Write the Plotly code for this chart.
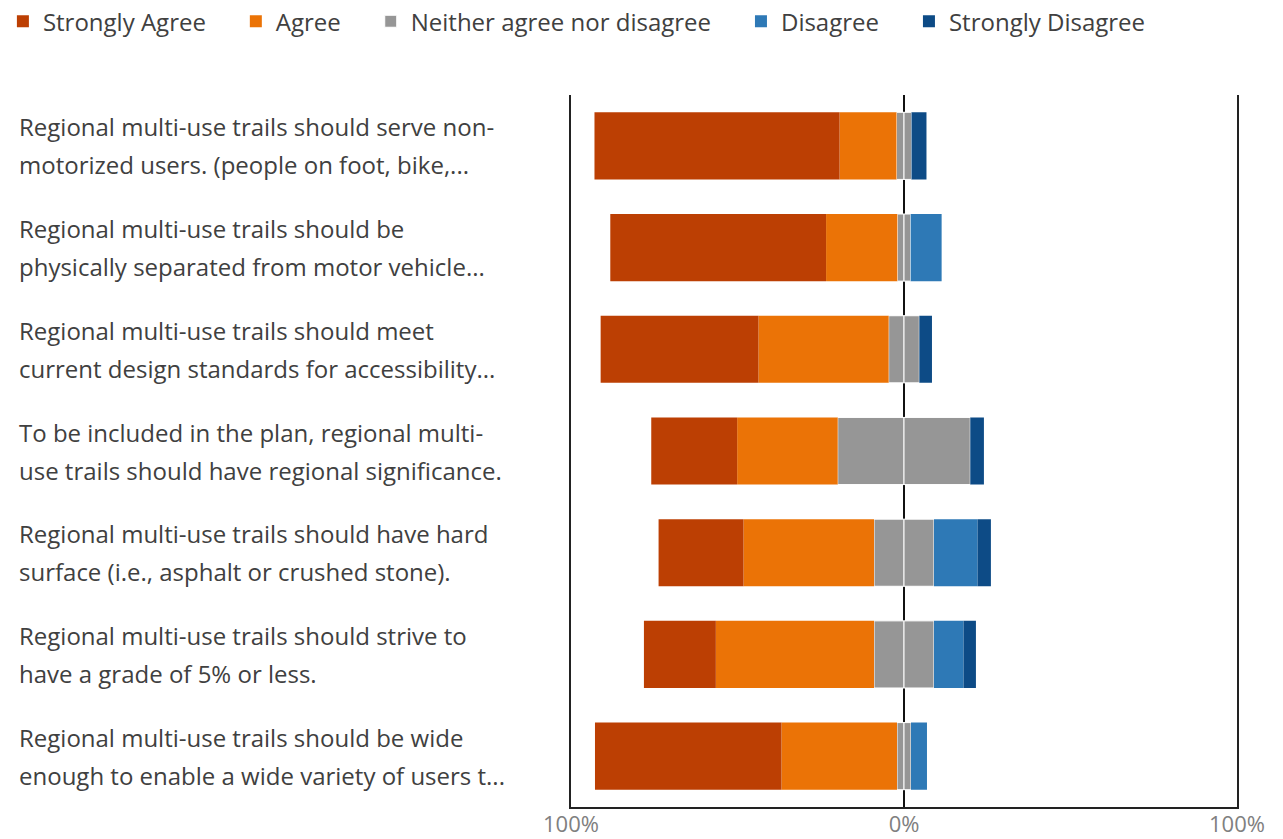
import plotly.graph_objects as go

# ---- data (percent of respondents) ----
line1 = [
    "Regional multi-use trails should serve non-",
    "Regional multi-use trails should be",
    "Regional multi-use trails should meet",
    "To be included in the plan, regional multi-",
    "Regional multi-use trails should have hard",
    "Regional multi-use trails should strive to",
    "Regional multi-use trails should be wide",
]
line2 = [
    "motorized users. (people on foot, bike,...",
    "physically separated from motor vehicle...",
    "current design standards for accessibility...",
    "use trails should have regional significance.",
    "surface (i.e., asphalt or crushed stone).",
    "have a grade of 5% or less.",
    "enough to enable a wide variety of users t...",
]
strongly_agree = [73.6, 64.8, 47.4, 25.8, 25.5, 21.6, 56.0]
agree = [17.1, 21.4, 39.1, 30.2, 39.2, 47.5, 34.7]
neutral = [4.5, 4.0, 9.2, 39.8, 18.0, 18.0, 4.2]
disagree = [0.0, 9.3, 0.0, 0.0, 13.1, 8.9, 4.8]
strongly_disagree = [4.5, 0.0, 3.8, 4.1, 4.0, 3.7, 0.0]

series_names = ["Strongly Agree", "Agree", "Neither agree nor disagree",
                "Disagree", "Strongly Disagree"]
tick_vals = [-100, 0, 100]
tick_text = ["100%", "0%", "100%"]

colors = {
    "Strongly Agree": "#BC3F03",
    "Agree": "#EB7306",
    "Neither agree nor disagree": "#969696",
    "Disagree": "#2E79B6",
    "Strongly Disagree": "#0D4B86",
}

cats = [a + " " + b for a, b in zip(line1, line2)]
pad = "\u00a0" * 4

fig = go.Figure()

def add(name, vals, show=True, rank=1, edge=0):
    fig.add_trace(go.Bar(
        y=cats, x=vals, orientation="h", name=name + pad,
        marker=dict(color=colors[name], line=dict(width=edge, color="white")),
        legendgroup=name, showlegend=show, legendrank=rank,
        hovertemplate=name + ": %{customdata:.1f}%<extra></extra>",
        customdata=[abs(v) for v in vals],
    ))

# stacking order outward from zero
add("Neither agree nor disagree", [-v / 2 for v in neutral], True, 3, 1)
add("Neither agree nor disagree", [v / 2 for v in neutral], False, 3, 1)
add("Agree", [-v for v in agree], True, 2)
add("Disagree", disagree, True, 4)
add("Strongly Agree", [-v for v in strongly_agree], True, 1)
add("Strongly Disagree", strongly_disagree, True, 5)

# category labels (left aligned, two lines)
for c, a, b in zip(cats, line1, line2):
    for txt, shift in ((a, 19), (b, -19)):
        fig.add_annotation(
            x=-0.832, xref="paper", y=c, yref="y", text=txt,
            showarrow=False, xanchor="left", yanchor="middle", yshift=shift,
            font=dict(family="Open Sans", size=24, color="#404040"),
        )

fig.update_layout(
    width=1283, height=839,
    margin=dict(l=571, r=46, t=95, b=32, autoexpand=False),
    barmode="relative", bargap=0.34,
    plot_bgcolor="white", paper_bgcolor="white",
    font=dict(family="Open Sans", color="#404040"),
    legend=dict(
        orientation="h", x=-0.853, xanchor="left", y=1.103, yanchor="middle",
        font=dict(family="Open Sans", size=24, color="#404040"),
        traceorder="normal", itemclick=False,
    ),
    xaxis=dict(
        range=[-100, 100], tickvals=tick_vals, ticktext=tick_text,
        showgrid=False, zeroline=True, zerolinecolor="#111111", zerolinewidth=1.5,
        showline=True, linecolor="#222222", linewidth=1.5,
        tickfont=dict(family="Open Sans", size=22, color="#808080"),
        ticks="", ticklabelstandoff=-3, fixedrange=True, automargin=False,
    ),
    yaxis=dict(
        autorange="reversed", showticklabels=False, showgrid=False,
        showline=True, mirror=True, linecolor="#222222", linewidth=1.5,
        ticks="", zeroline=False, fixedrange=True, automargin=False,
    ),
)

fig.write_html("out.html", config={"displayModeBar": False},
               post_script="document.body.style.margin='0';")
